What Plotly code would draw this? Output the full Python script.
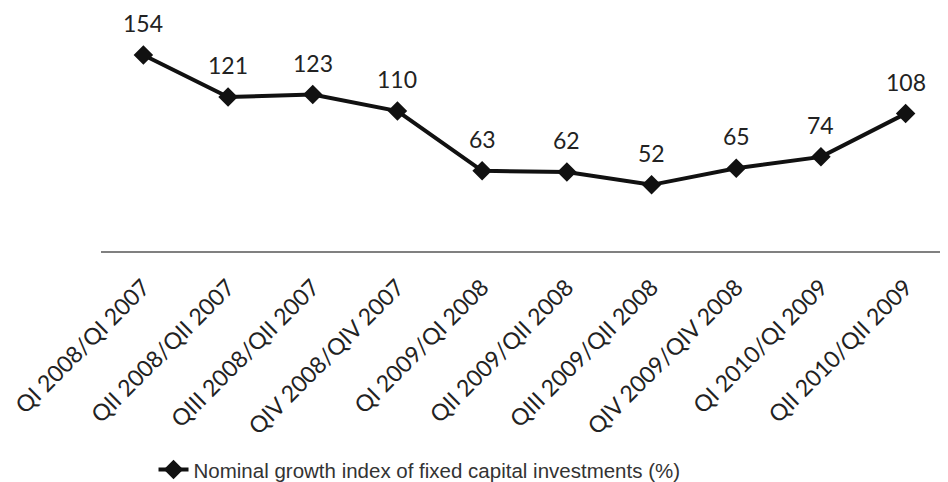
import plotly.graph_objects as go

categories = ["QI 2008/QI 2007", "QII 2008/QII 2007", "QIII 2008/QII 2007", "QIV 2008/QIV 2007",
              "QI 2009/QI 2008", "QII 2009/QII 2008", "QIII 2009/QII 2008", "QIV 2009/QIV 2008",
              "QI 2010/QI 2009", "QII 2010/QII 2009"]
values = [154, 121, 123, 110, 63, 62, 52, 65, 74, 108]
series_name = "Nominal growth index of fixed capital investments (%)"

fig = go.Figure()
fig.add_trace(go.Scatter(
    x=categories, y=values, mode="lines+markers", name=series_name,
    line=dict(color="#111111", width=4),
    marker=dict(symbol="diamond", size=15, color="#111111"),
    cliponaxis=False,
))
for c, v in zip(categories, values):
    fig.add_annotation(x=c, y=v, text=str(v), showarrow=False, yshift=32,
                       font=dict(family="Lato, Noto Sans, sans-serif", size=23, color="#222222"))

fig.update_layout(
    width=940, height=482,
    margin=dict(l=93, r=0, t=14, b=235),
    paper_bgcolor="white", plot_bgcolor="white",
    showlegend=True,
    legend=dict(orientation="h", x=0.062, y=-0.955, xanchor="left", yanchor="middle",
                font=dict(family="Liberation Sans, Arial, sans-serif", size=20.5, color="#333333")),
    xaxis=dict(showgrid=False, showline=True, linecolor="#808080", linewidth=1.5,
               range=[-0.5, len(categories) - 0.5],
               ticks="", tickangle=-45, automargin=False, ticklabelstandoff=12,
               tickfont=dict(family="Lato, Noto Sans, sans-serif", size=23, color="#222222")),
    yaxis=dict(range=[0, 180], visible=False, showgrid=False, zeroline=False, automargin=False),
)
fig.write_html("out.html")
